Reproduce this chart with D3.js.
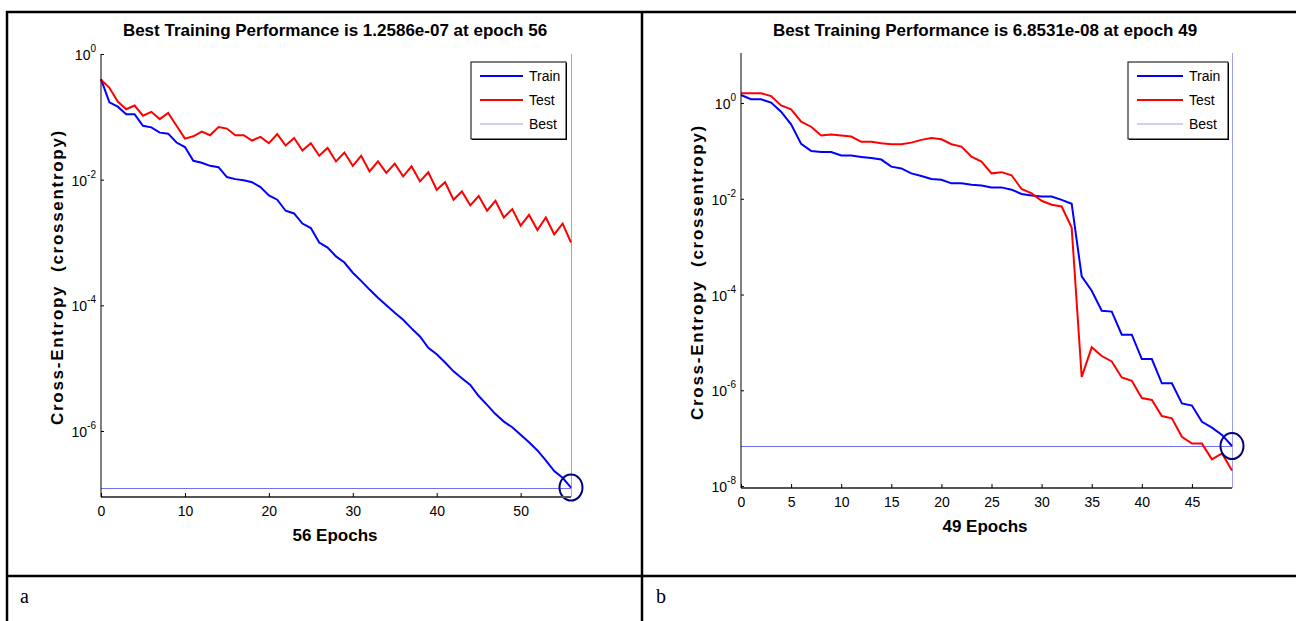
<!DOCTYPE html>
<html>
<head>
<meta charset="utf-8">
<script src="https://cdn.jsdelivr.net/npm/d3@7"></script>
<style>
  body { margin: 0; background: #fff; }
  svg { display: block; font-family: "Liberation Sans", Arial, sans-serif; }
</style>
</head>
<body>
<div id="chart"></div>
<script>
// panel a: 56 epochs
const trainA = [0.398, 0.170, 0.145, 0.110, 0.110, 0.072, 0.068, 0.056, 0.054, 0.039,
  0.033, 0.020, 0.0186, 0.0166, 0.0158, 0.0110, 0.0102, 0.0098, 0.0091, 0.0076,
  0.0056, 0.0048, 0.0032, 0.0029, 0.0020, 0.0017, 0.0010, 8.3e-4, 6.0e-4, 4.8e-4,
  3.3e-4, 2.45e-4, 1.78e-4, 1.32e-4, 1.0e-4, 7.6e-5, 5.9e-5, 4.3e-5, 3.2e-5, 2.1e-5,
  1.66e-5, 1.23e-5, 8.9e-6, 6.9e-6, 5.4e-6, 3.6e-6, 2.6e-6, 1.86e-6, 1.41e-6, 1.15e-6,
  8.7e-7, 6.6e-7, 4.9e-7, 3.4e-7, 2.3e-7, 1.8e-7, 1.2586e-7];
const testA = [0.39, 0.29, 0.175, 0.132, 0.151, 0.104, 0.120, 0.092, 0.115, 0.072,
  0.045, 0.049, 0.058, 0.051, 0.069, 0.065, 0.051, 0.051, 0.042, 0.048,
  0.038, 0.053, 0.035, 0.046, 0.029, 0.038, 0.024, 0.032, 0.0195, 0.027,
  0.0166, 0.024, 0.0135, 0.0195, 0.0128, 0.018, 0.0113, 0.0163, 0.0094, 0.0131,
  0.0069, 0.0091, 0.0048, 0.0065, 0.0039, 0.0055, 0.0032, 0.0046, 0.0025, 0.0034,
  0.00186, 0.00275, 0.00158, 0.0025, 0.00135, 0.0020, 0.0010];

// panel b: 49 epochs
const trainB = [1.47, 1.2, 1.2, 1.02, 0.66, 0.36, 0.14, 0.10, 0.095, 0.095,
  0.080, 0.080, 0.075, 0.071, 0.066, 0.047, 0.043, 0.034, 0.030, 0.026,
  0.025, 0.021, 0.021, 0.0196, 0.019, 0.0173, 0.0173, 0.0155, 0.0126, 0.0117,
  0.0112, 0.0112, 0.0095, 0.0079, 2.4e-4, 1.2e-4, 4.6e-5, 4.4e-5, 1.45e-5, 1.45e-5,
  4.5e-6, 4.5e-6, 1.4e-6, 1.4e-6, 5.3e-7, 4.8e-7, 2.2e-7, 1.66e-7, 1.17e-7, 6.8531e-8];
const testB = [1.6, 1.6, 1.6, 1.4, 0.89, 0.74, 0.41, 0.32, 0.21, 0.22,
  0.21, 0.20, 0.155, 0.155, 0.145, 0.138, 0.138, 0.149, 0.17, 0.186,
  0.175, 0.138, 0.123, 0.076, 0.060, 0.034, 0.036, 0.031, 0.016, 0.013,
  0.0091, 0.0075, 0.0069, 0.0025, 1.9e-6, 7.9e-6, 5.2e-6, 4.0e-6, 1.85e-6, 1.58e-6,
  6.9e-7, 6.3e-7, 2.9e-7, 2.6e-7, 1.07e-7, 7.7e-8, 7.7e-8, 3.6e-8, 4.8e-8, 2.1e-8];

const titleA = "Best Training Performance is 1.2586e-07 at epoch 56";
const titleB = "Best Training Performance is 6.8531e-08 at epoch 49";
const xLabelA = "56 Epochs";
const xLabelB = "49 Epochs";
const yLabel = "Cross-Entropy  (crossentropy)";
const legendLabels = ["Train", "Test", "Best"];
const bestA = { epoch: 56, value: 1.2586e-7 };
const bestB = { epoch: 49, value: 6.8531e-8 };
const xTicksA = [0, 10, 20, 30, 40, 50];
const xTicksB = [0, 5, 10, 15, 20, 25, 30, 35, 40, 45];
const yTicksA = [1, 1e-2, 1e-4, 1e-6];
const yTicksB = [1, 1e-2, 1e-4, 1e-6, 1e-8];
const yDomainA = [8.9e-8, 1];
const yDomainB = [9.1e-9, 11.1];
const captions = ["a", "b"];

const W = 1296, H = 621;
const svg = d3.select("#chart").append("svg")
  .attr("width", W)
  .attr("height", H);

// table frame round the two figures
const frame = svg.append("g").attr("stroke", "#000").attr("stroke-width", 2.5);
frame.append("line").attr("x1", 6).attr("x2", W).attr("y1", 12).attr("y2", 12);
frame.append("line").attr("x1", 7).attr("x2", 7).attr("y1", 11).attr("y2", H);
frame.append("line").attr("x1", 642).attr("x2", 642).attr("y1", 11).attr("y2", H);
frame.append("line").attr("x1", 6).attr("x2", W).attr("y1", 576).attr("y2", 576);

svg.selectAll(".caption")
  .data(captions)
  .enter()
  .append("text")
  .attr("class", "caption")
  .attr("x", (d, i) => i === 0 ? 20 : 656)
  .attr("y", 603)
  .style("font-family", "'Liberation Serif', 'Times New Roman', serif")
  .style("font-size", "20px")
  .text(d => d);

function drawPanel(p) {
  const g = svg.append("g");

  const x = d3.scaleLinear().domain([0, p.epochs]).range([p.left, p.right]);
  const y = d3.scaleLog().domain(p.yDomain).range([p.bottom, p.top]);

  // title
  g.append("text")
    .attr("x", p.titleX)
    .attr("y", 36)
    .attr("text-anchor", "middle")
    .style("font-size", "17px")
    .style("font-weight", "bold")
    .text(p.title);

  // best markers
  const by = Math.round(y(p.best.value)) + 0.5;
  g.append("line")
    .attr("x1", x(0)).attr("x2", x(p.best.epoch))
    .attr("y1", by).attr("y2", by)
    .attr("stroke", "#7070f0").attr("stroke-width", 1);
  g.append("line")
    .attr("x1", Math.round(x(p.best.epoch)) + 0.5).attr("x2", Math.round(x(p.best.epoch)) + 0.5)
    .attr("y1", p.top).attr("y2", p.bottom)
    .attr("stroke", "#a0a0ec").attr("stroke-width", 1);

  const line = d3.line()
    .x((d, i) => x(i))
    .y(d => y(d));

  g.append("path")
    .datum(p.train)
    .attr("fill", "none")
    .attr("stroke", "#0000ff")
    .attr("stroke-width", 2)
    .attr("d", line);

  g.append("path")
    .datum(p.test)
    .attr("fill", "none")
    .attr("stroke", "#ff0000")
    .attr("stroke-width", 2)
    .attr("d", line);

  g.append("ellipse")
    .attr("cx", x(p.best.epoch))
    .attr("cy", y(p.best.value))
    .attr("rx", 11.5).attr("ry", 13)
    .attr("fill", "none")
    .attr("stroke", "#00007f")
    .attr("stroke-width", 2);

  // y axis
  const yAxis = d3.axisLeft(y).tickValues(p.yTicks).tickSize(-3).tickFormat("");
  const ya = g.append("g")
    .attr("transform", `translate(${p.left},0)`)
    .call(yAxis);
  ya.select(".domain").attr("d", `M0,${p.top}V${p.bottom}`).attr("stroke", "#000");
  ya.selectAll(".tick line").attr("stroke", "#000");

  const yl = g.selectAll(".ylab")
    .data(p.yTicks)
    .enter()
    .append("text")
    .attr("x", p.left - 5)
    .attr("y", d => y(d) + 6)
    .attr("text-anchor", "end")
    .style("font-size", "14px");
  yl.append("tspan").text("10");
  yl.append("tspan")
    .attr("dy", -8)
    .style("font-size", "10px")
    .text(d => Math.round(Math.log10(d)));

  // x axis
  const xAxis = d3.axisBottom(x).tickValues(p.xTicks).tickSize(-4).tickPadding(9);
  const xa = g.append("g")
    .attr("transform", `translate(0,${p.bottom})`)
    .call(xAxis);
  xa.select(".domain").attr("d", `M${p.left},0H${p.right}`)
    .attr("stroke", "#555").attr("stroke-width", 2);
  xa.selectAll(".tick line").attr("stroke", "#000");
  xa.selectAll(".tick text")
    .style("font-size", "14px")
    .style("font-family", "'Liberation Sans', Arial, sans-serif");

  g.append("text")
    .attr("x", p.titleX)
    .attr("y", p.bottom + 44)
    .attr("text-anchor", "middle")
    .style("font-size", "17px")
    .style("font-weight", "bold")
    .text(p.xLabel);

  g.append("text")
    .attr("transform", `translate(${p.yLabelX},${p.yLabelY}) rotate(-90)`)
    .attr("text-anchor", "middle")
    .attr("xml:space", "preserve")
    .style("white-space", "pre")
    .style("font-size", "17px")
    .style("font-weight", "bold")
    .style("letter-spacing", "1.7px")
    .text(yLabel);

  // legend
  const lg = g.append("g").attr("transform", `translate(${p.legendX},62)`);
  lg.append("rect")
    .attr("x", 1).attr("y", 1)
    .attr("width", p.legendW).attr("height", 77)
    .attr("fill", "#000");
  lg.append("rect")
    .attr("width", p.legendW).attr("height", 77)
    .attr("fill", "#fff").attr("stroke", "#000").attr("stroke-width", 1);
  const colors = ["#0000ff", "#ff0000", "#a0a0ec"];
  const widths = [2, 2, 1];
  const rows = [14, 38, 62];
  legendLabels.forEach((lab, i) => {
    lg.append("line")
      .attr("x1", 9).attr("x2", p.legendLine)
      .attr("y1", rows[i]).attr("y2", rows[i])
      .attr("stroke", colors[i]).attr("stroke-width", widths[i]);
    lg.append("text")
      .attr("x", p.legendText).attr("y", rows[i] + 5)
      .style("font-size", "14px")
      .text(lab);
  });
}

drawPanel({
  epochs: 56, left: 101, right: 571, top: 54, bottom: 497,
  yDomain: yDomainA, yTicks: yTicksA, xTicks: xTicksA,
  train: trainA, test: testA, best: bestA,
  title: titleA, titleX: 335, xLabel: xLabelA,
  yLabelX: 63, yLabelY: 277, legendX: 471, legendW: 95,
  legendLine: 52, legendText: 58
});

drawPanel({
  epochs: 49, left: 741, right: 1232, top: 53, bottom: 488,
  yDomain: yDomainB, yTicks: yTicksB, xTicks: xTicksB,
  train: trainB, test: testB, best: bestB,
  title: titleB, titleX: 985, xLabel: xLabelB,
  yLabelX: 703, yLabelY: 272, legendX: 1128, legendW: 100,
  legendLine: 55, legendText: 61
});
</script>
</body>
</html>
